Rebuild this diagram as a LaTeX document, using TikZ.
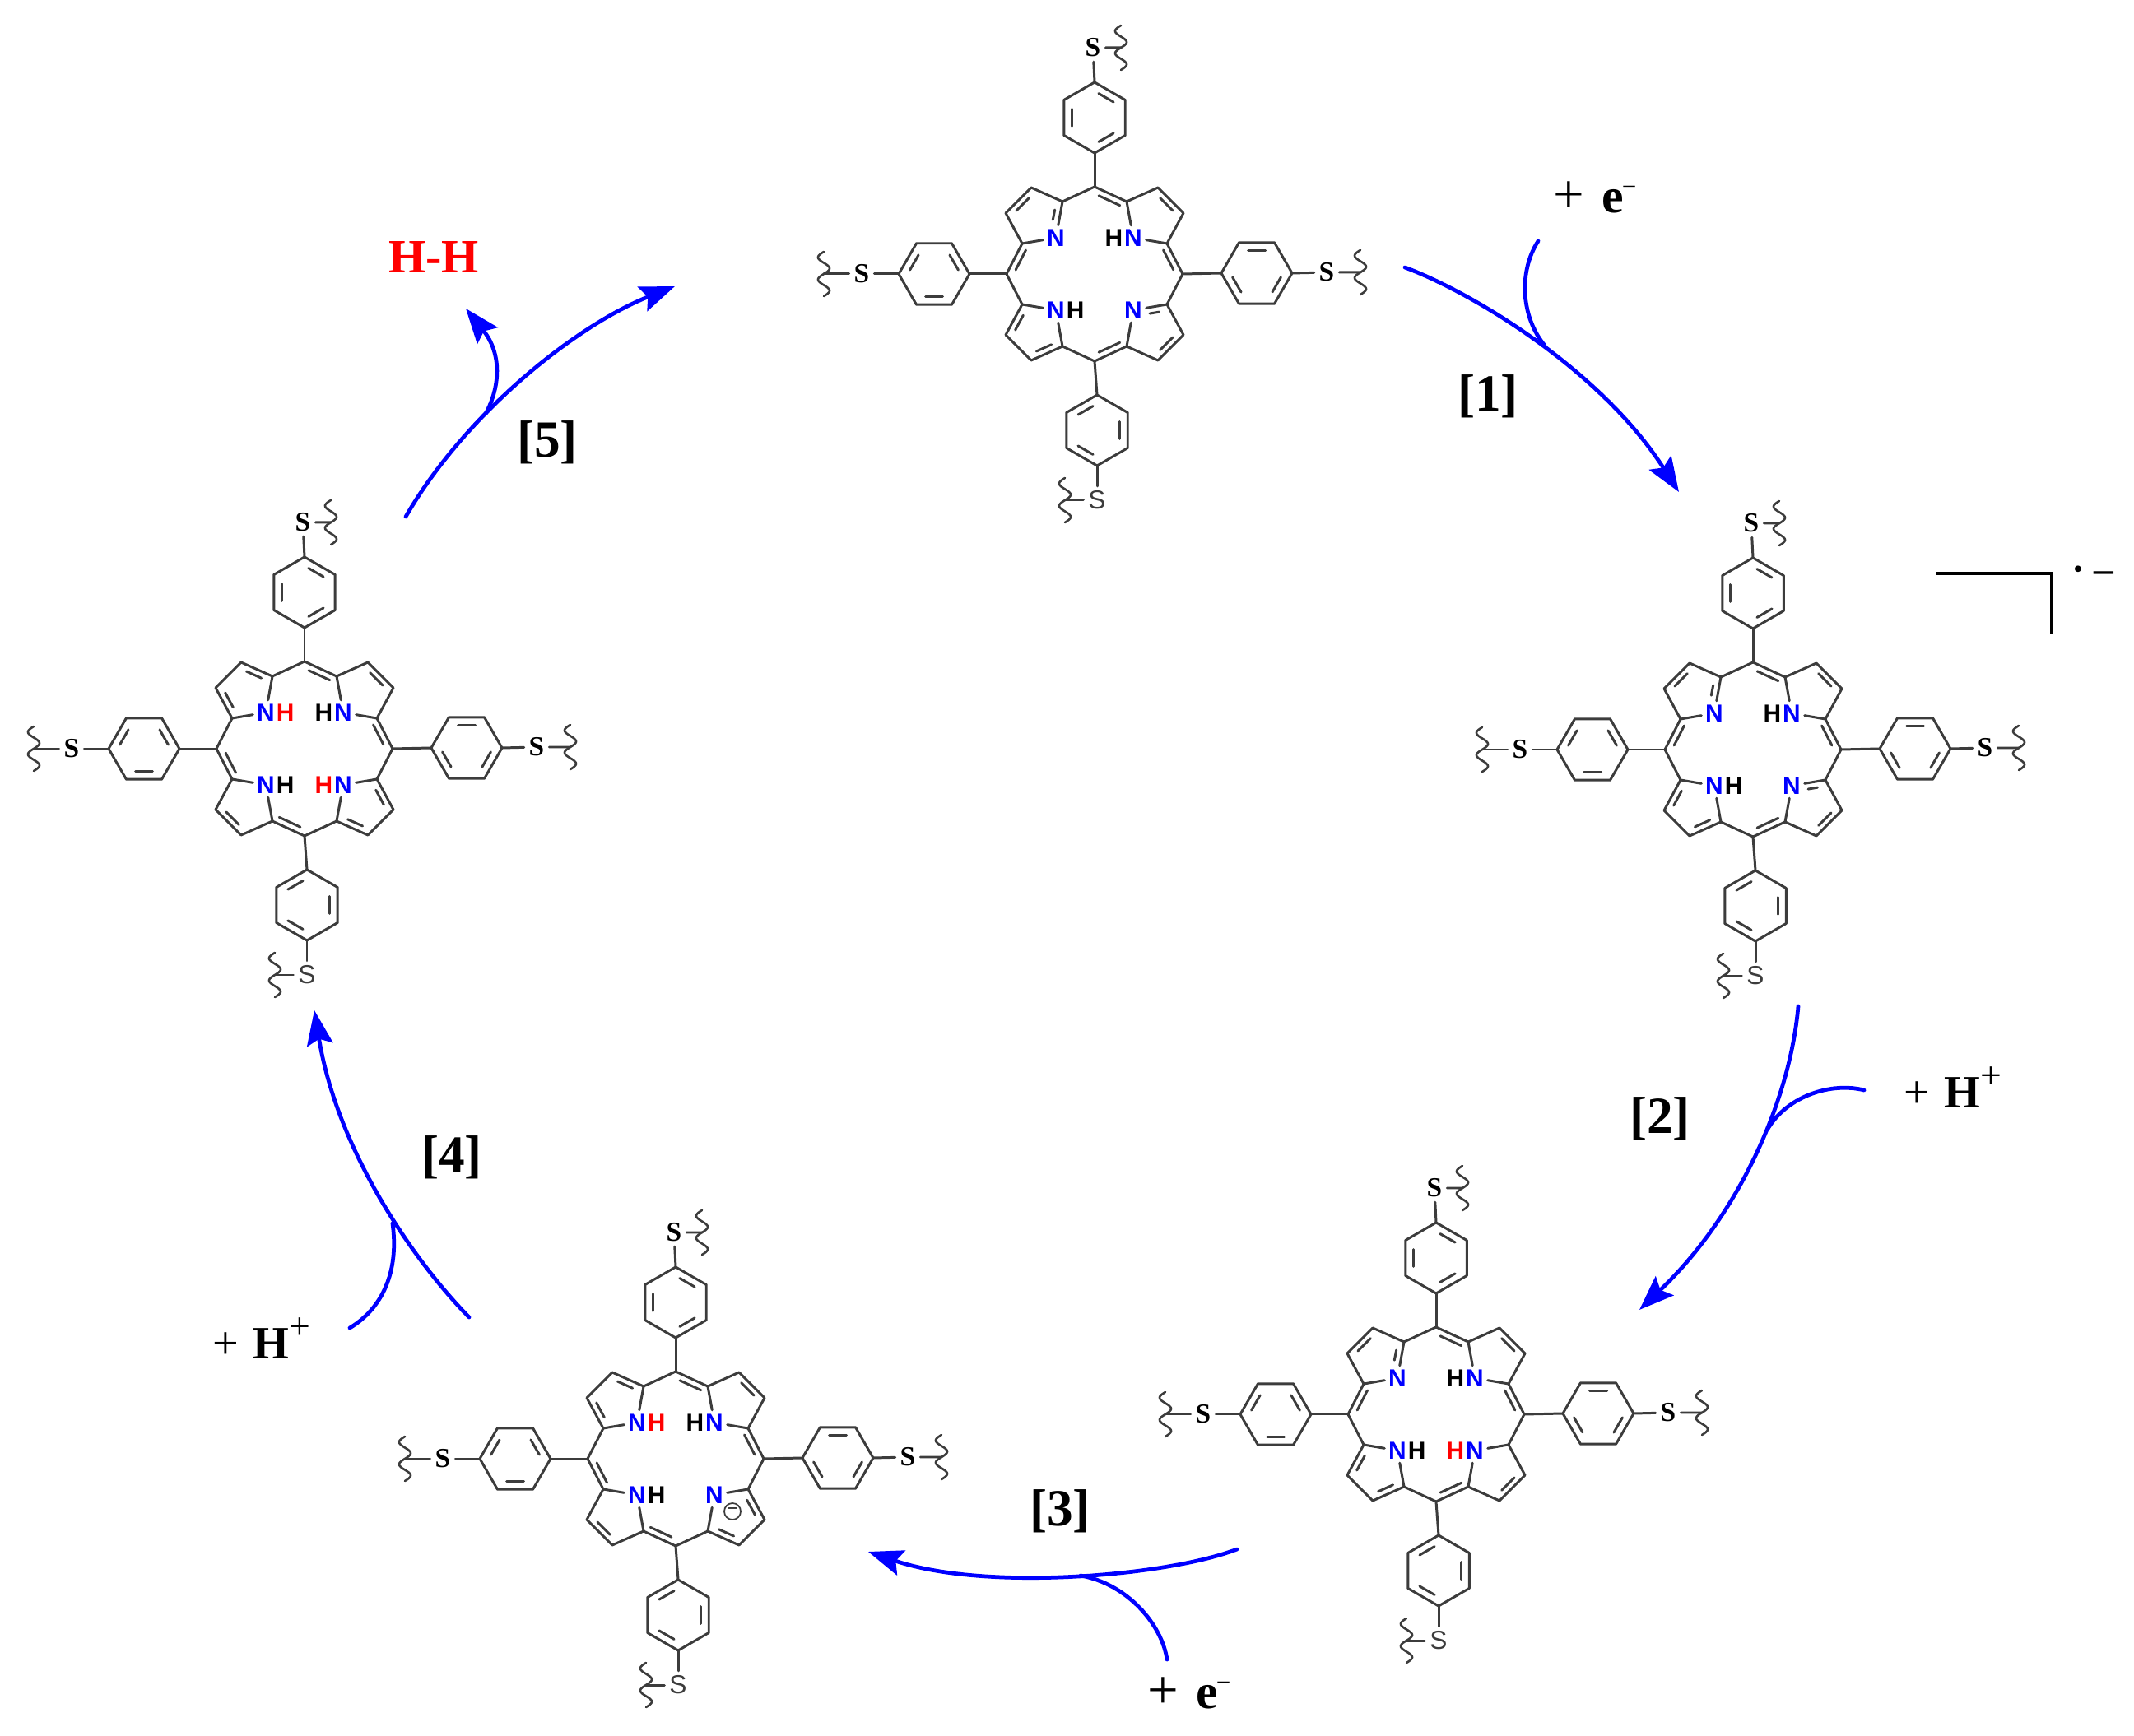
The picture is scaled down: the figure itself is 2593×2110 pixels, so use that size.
\documentclass[tikz,border=0pt]{standalone}
\usepackage{fontspec}
\setmainfont{Liberation Serif}
\setsansfont{Liberation Sans}
\usetikzlibrary{arrows.meta,calc,positioning}

\definecolor{bondgray}{HTML}{3C3C3C}
\tikzset{
  bond/.style={draw=bondgray,line width=0.85pt,line join=round,line cap=round},
  wavebond/.style={draw=bondgray,line width=0.75pt,line cap=round},
  natom/.style={text=blue,font=\sffamily\bfseries\fontsize{8.5}{8.5}\selectfont,inner sep=1.2pt},
  hatom/.style={text=black,font=\sffamily\bfseries\fontsize{8.5}{8.5}\selectfont,inner sep=0pt},
  hred/.style={hatom,text=red},
  sbold/.style={font=\bfseries\fontsize{9.5}{9.5}\selectfont,inner sep=1.5pt},
  sthin/.style={text=bondgray,font=\sffamily\fontsize{9}{9}\selectfont,inner sep=1.5pt},
  step num/.style={font=\bfseries\fontsize{18}{18}\selectfont,inner sep=0pt},
  reagent/.style={font=\fontsize{16}{16}\selectfont,inner sep=0pt},
  flow/.style={draw=blue,line width=1.35pt,line cap=round},
  flowtip/.style={flow,-{Stealth[length=12pt,width=9pt,inset=2pt]}},
  bracket/.style={draw=black,line width=1.1pt},
}

% inner line of a double bond, scaled towards the point #4
\newcommand{\dbl}[4][.75]{\draw[bond,shorten <=1.6pt,shorten >=1.6pt] ($(#4)!#1!(#2)$) -- ($(#4)!#1!(#3)$);}
\newcommand{\wavy}[2]{\draw[wavebond,shift={(#1,#2)}] plot[domain=-27:27,samples=49,smooth] ({-7*sin(13.33*\x)},\x);}
\newcommand{\phenyl}[4]{
  \begin{scope}[shift={(#2,#3)}]
    \coordinate (#1m) at (0,0);
    \foreach \i in {0,...,5} {\coordinate (#1v\i) at (#4+\i*60:43);}
    \draw[bond] (#1v0) -- (#1v1) -- (#1v2) -- (#1v3) -- (#1v4) -- (#1v5) -- cycle;
    \dbl{#1v0}{#1v1}{#1m}
    \dbl{#1v2}{#1v3}{#1m}
    \dbl{#1v4}{#1v5}{#1m}
  \end{scope}
}
\newcommand{\porph}[1]{
  \coordinate (#1O) at (0,0);
  \coordinate (#1T) at (0,-106);
  \coordinate (#1B) at (0,106);
  \coordinate (#1L) at (-107,0);
  \coordinate (#1R) at (107,0);
  \foreach \q/\sx/\sy in {tl/-1/-1,tr/1/-1,bl/-1/1,br/1/1} {
    \coordinate (#1\q a) at (\sx*39,\sy*88);
    \coordinate (#1\q b) at (\sx*77,\sy*105);
    \coordinate (#1\q c) at (\sx*108,\sy*74);
    \coordinate (#1\q d) at (\sx*88,\sy*37);
    \coordinate (#1\q m) at (\sx*72,\sy*70);
    \node[natom] (#1\q n) at (\sx*47,\sy*44) {N};
    \draw[bond] (#1\q a) -- (#1\q b) -- (#1\q c) -- (#1\q d) -- (#1\q n) -- (#1\q a);
  }
  \coordinate (#1tlx) at (-45,-57);
  \coordinate (#1brx) at (58,42);
  \draw[bond] (#1tla) -- (#1T) -- (#1tra);
  \draw[bond] (#1bla) -- (#1B) -- (#1bra);
  \draw[bond] (#1tld) -- (#1L) -- (#1bld);
  \draw[bond] (#1trd) -- (#1R) -- (#1brd);
  \phenyl{#1pt}{0}{-190}{-90}
  \phenyl{#1pb}{3}{190}{-30}
  \phenyl{#1pl}{-195}{0}{60}
  \phenyl{#1pr}{197}{-1}{0}
  \draw[bond] (#1T) -- (#1ptv3);
  \draw[bond] (#1B) -- (#1pbv5);
  \draw[bond] (#1L) -- (#1plv5);
  \draw[bond] (#1R) -- (#1prv3);
  \node[sbold] (#1st) at (-2,-275) {S};
  \node[sthin] (#1sb) at (3,275) {S};
  \node[sbold] (#1sl) at (-283,0) {S};
  \node[sbold] (#1sr) at (282,-2) {S};
  \coordinate (#1wt) at (32,-275);
  \coordinate (#1wb) at (-36,275);
  \coordinate (#1wl) at (-329,0);
  \coordinate (#1wr) at (323,-2);
  \draw[bond] (#1ptv0) -- (#1st) -- (#1wt);
  \draw[bond] (#1pbv2) -- (#1sb) -- (#1wb);
  \draw[bond] (#1plv2) -- (#1sl) -- (#1wl);
  \draw[bond] (#1prv0) -- (#1sr) -- (#1wr);
  \wavy{32}{-275}
  \wavy{-36}{275}
  \wavy{-329}{0}
  \wavy{323}{-2}
}
\newcommand{\bondsA}[1]{
  \dbl{#1tla}{#1tlx}{#1tlm}
  \dbl{#1tlb}{#1tlc}{#1tlm}
  \dbl[.92]{#1tld}{#1L}{#1O}
  \dbl[.92]{#1T}{#1tra}{#1O}
  \dbl{#1trb}{#1trc}{#1trm}
  \dbl[.92]{#1trd}{#1R}{#1O}
  \dbl{#1bld}{#1blc}{#1blm}
  \dbl{#1blb}{#1bla}{#1blm}
  \dbl[.92]{#1B}{#1bra}{#1O}
  \dbl{#1brc}{#1brb}{#1brm}
}
\newcommand{\bondsB}[1]{
  \dbl{#1tla}{#1tlb}{#1tlm}
  \dbl{#1tlc}{#1tld}{#1tlm}
  \dbl[.92]{#1T}{#1tra}{#1O}
  \dbl{#1trb}{#1trc}{#1trm}
  \dbl[.92]{#1trd}{#1R}{#1O}
  \dbl[.92]{#1L}{#1bld}{#1O}
  \dbl{#1blc}{#1blb}{#1blm}
  \dbl[.92]{#1bla}{#1B}{#1O}
  \dbl{#1brd}{#1brc}{#1brm}
  \dbl{#1brb}{#1bra}{#1brm}
}
\newcommand{\eminus}{{\fontsize{19}{19}\selectfont +}\hspace{6pt}\textbf{e}\raisebox{7pt}{\fontsize{8}{8}\selectfont –}}
\newcommand{\hplus}{+\hspace{5pt}\textbf{H}\raisebox{6.8pt}{\fontsize{13}{13}\selectfont +}}

\begin{document}
\begin{tikzpicture}[x=0.01cm,y=-0.01cm]
\useasboundingbox (0,0) rectangle (2593,2110);

\begin{scope}[shift={(1330,333)}]
\porph{ma}
\bondsA{ma}
\dbl{mabrd}{mabrx}{mabrm}
\node[hatom,left=-1pt of matrn] (matrh) {H};
\node[hatom,right=-1pt of mabln] (mablh) {H};
\end{scope}

\begin{scope}[shift={(2130,911)}]
\porph{mb}
\bondsA{mb}
\dbl{mbbrd}{mbbrx}{mbbrm}
\node[hatom,left=-1pt of mbtrn] (mbtrh) {H};
\node[hatom,right=-1pt of mbbln] (mbblh) {H};
\end{scope}

\begin{scope}[shift={(1745,1719)}]
\porph{mc}
\bondsA{mc}
\node[hatom,left=-1pt of mctrn] (mctrh) {H};
\node[hatom,right=-1pt of mcbln] (mcblh) {H};
\node[hred,left=-1pt of mcbrn] (mcbrh) {H};
\end{scope}

\begin{scope}[shift={(821,1773)}]
\porph{md}
\bondsB{md}
\node[hred,right=-1pt of mdtln] (mdtlh) {H};
\node[hatom,left=-1pt of mdtrn] (mdtrh) {H};
\node[hatom,right=-1pt of mdbln] (mdblh) {H};
\node[circle,draw=bondgray,line width=0.5pt,minimum size=0.2cm,inner sep=0pt,font=\sffamily\fontsize{6}{6}\selectfont] (mdminus) at (69,64) {\char"2212};
\end{scope}

\begin{scope}[shift={(370,910)}]
\porph{me}
\bondsB{me}
\node[hred,right=-1pt of metln] (metlh) {H};
\node[hatom,left=-1pt of metrn] (metrh) {H};
\node[hatom,right=-1pt of mebln] (meblh) {H};
\node[hred,left=-1pt of mebrn] (mebrh) {H};
\end{scope}

% radical anion bracket
\coordinate (bra) at (2352,697);
\coordinate (brb) at (2493,697);
\coordinate (brc) at (2493,770);
\draw[bracket] (bra) -- (brb) -- (brc);
\node[font=\bfseries\fontsize{13.5}{13.5}\selectfont,inner sep=0pt] (radical) at (2543,698) {· –};

% step 1
\coordinate (s1) at (1707,325);
\coordinate (j1) at (1877,420);
\coordinate (e1) at (2040,598);
\coordinate (f1) at (1869,293);
\draw[flowtip] (s1) .. controls (1790,356) and (1945,450) .. (e1);
\draw[flow] (f1) .. controls (1845,330) and (1848,385) .. (j1);
\node[step num] (n1) at (1808,482) {[1]};
\node[reagent,font=\fontsize{17}{17}\selectfont] (r1) at (1937,240) {\eminus};

% step 2
\coordinate (s2) at (2185,1223);
\coordinate (j2) at (2148,1372);
\coordinate (e2) at (1992,1592);
\coordinate (f2) at (2265,1325);
\draw[flowtip] (s2) .. controls (2175,1340) and (2110,1480) .. (e2);
\draw[flow] (f2) .. controls (2225,1315) and (2172,1332) .. (j2);
\node[step num] (n2) at (2017,1360) {[2]};
\node[reagent] (r2) at (2373,1322) {\hplus};

% step 3
\coordinate (s3) at (1503,1883);
\coordinate (j3) at (1313,1915);
\coordinate (e3) at (1055,1886);
\coordinate (f3) at (1418,2017);
\draw[flowtip] (s3) .. controls (1420,1915) and (1200,1935) .. (e3);
\draw[flow] (f3) .. controls (1412,1975) and (1370,1925) .. (j3);
\node[step num] (n3) at (1288,1837) {[3]};
\node[reagent,font=\fontsize{17}{17}\selectfont] (r3) at (1444,2058) {\eminus};

% step 4
\coordinate (s4) at (570,1601);
\coordinate (j4) at (477,1487);
\coordinate (e4) at (382,1228);
\coordinate (f4) at (425,1614);
\draw[flowtip] (s4) .. controls (505,1535) and (410,1400) .. (e4);
\draw[flow] (f4) .. controls (465,1590) and (485,1545) .. (j4);
\node[step num] (n4) at (549,1407) {[4]};
\node[reagent] (r4) at (318,1627) {\hplus};

% step 5
\coordinate (s5) at (493,628);
\coordinate (j5) at (590,503);
\coordinate (e5) at (820,348);
\coordinate (f5) at (566,375);
\draw[flowtip] (s5) .. controls (567,500) and (703,394) .. (e5);
\draw[flowtip] (j5) .. controls (608,470) and (610,430) .. (f5);
\node[step num] (n5) at (665,538) {[5]};
\node[font=\bfseries\fontsize{16.5}{16.5}\selectfont,text=red,inner sep=0pt] (hh) at (527,313) {H-H};

\end{tikzpicture}
\end{document}
